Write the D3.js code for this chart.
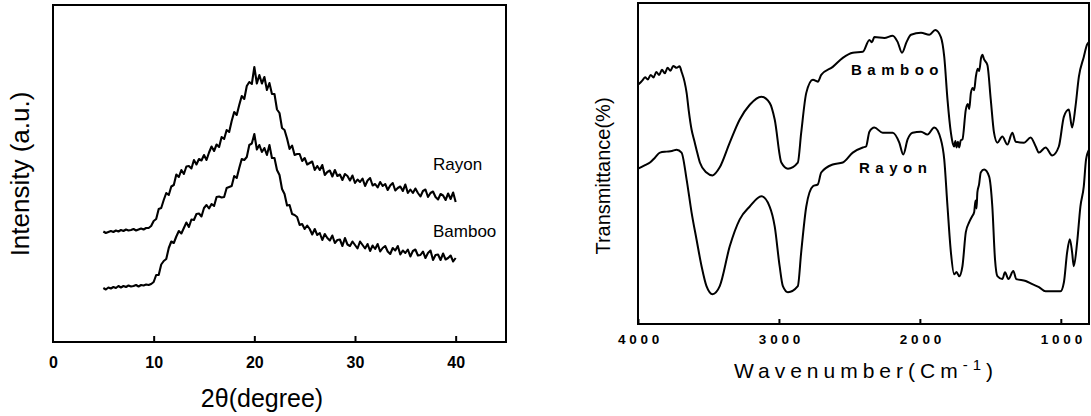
<!DOCTYPE html>
<html>
<head>
<meta charset="utf-8">
<script src="https://cdn.jsdelivr.net/npm/d3@7"></script>
<style>
  html, body { margin: 0; padding: 0; background: #fff; }
  svg { display: block; }
  text { font-family: "Liberation Sans", Arial, sans-serif; fill: #000; }
</style>
</head>
<body>
<svg id="chart" width="1091" height="416"></svg>
<script>
// ---------- XRD (left panel) ----------
const xrdAngleStart = 5, xrdAngleEnd = 40, xrdAngleStep = 0.25;
const xrdTicks = [0, 10, 20, 30, 40];
const xrdRayon = [
  110.5,109,110,111,110,111.5,110.5,112,111,112.5,
  111.5,112,113,111.5,112.5,113.5,112.5,114,114,116,
  121,123,133,134,142,149,147,155.5,157,167.5,
  165,172,168,175.5,176,173.5,182,177.5,183,181.5,
  187,182,189.5,195.5,191,197.5,195,205,203,212,
  210,221,230,227,237,246,243,256,260,258,
  275,258.5,267,258.5,265,252,259,248,248,232.5,
  229,214,212,203.5,193,196.5,187,188,188,181,
  184,177.5,179,180.5,172,176,172,177,167,170,
  171.5,165.5,172,166,167.5,162,168,166,161.5,166.5,
  159,162.5,160,163.5,156,161.5,164,156.5,158,154.5,
  160,156,158,152,156.5,159,151.5,154,155.5,151,
  157.5,149,152.5,149,153.5,149,145.5,151,152.5,145,
  149,150.5,145,142.5,148,146.5,142,148.5,143,149.5,
  140
];
const xrdBamboo = [
  54,52.5,54.5,53.5,55,54,56,54.5,56,55,
  56.5,55.5,56,57,55.5,57,56.5,57.5,57,58,
  60,67,67,77.5,81,83,94,100.5,99,105.5,
  111,108.5,114,119.5,115,122.5,122,128,128.5,125.5,
  134,137,133.5,138,136,145,145.5,144.5,145,154,
  155,156,166,164,174,183,182,185,197,198.5,
  208,192.5,197,190,194,187,197,184,184,172,
  167,153,148,136.5,137,128,127,125,117,118,
  113,116.5,113,107.5,113,107,109,102,108,104,
  101.5,106.5,99,102,102.5,96,104,97.5,96,100.5,
  97,93.5,100.5,97,93.5,98,91,96.5,93,98,
  90.5,94,96,90.5,88,94,91.5,96,87.5,91.5,
  89,92.5,85.5,91,92.5,86.5,87,90.5,84,89,
  91.5,82,87,87.5,82,88.5,82.5,84,86.5,80.5,
  84
];
const xrdLabels = ["Rayon", "Bamboo"];

// ---------- FTIR (right panel) ----------
const ftirTicks = [4000, 3000, 2000, 1000];
const ftirWnBamboo = [4000,3970,3950,3930,3910,3890,3870,3850,3830,3810,3790,3770,3750,3726,3705,3691,3670,3655,3640,3620,3600,3585,3561,3514,3471,3420,3349,3278,3207,3125,3066,3030,2983,2936,2866,2842,2806,2759,2724,2700,2618,2547,2476,2405,2358,2340,2323,2252,2193,2158,2127,2094,2063,1992,1933,1891,1851,1827,1804,1780,1765,1757,1748,1740,1730,1721,1710,1698,1674,1660,1650,1638,1625,1615,1603,1590,1580,1565,1556,1545,1521,1497,1474,1450,1415,1379,1344,1320,1261,1214,1178,1155,1108,1061,1014,978,943,920,896,872,837,814,800];
const ftirBamboo = [74.5,75.8,76.9,76.2,77.6,76.8,78.5,77.6,79.2,78.1,79.8,78.9,80.4,79.8,80.3,78.6,75.5,72.0,66.5,60.6,57.0,54.3,50.3,47.2,46.3,48.8,56.5,63.7,68.3,70.8,68.9,63.7,50.3,48.4,50.3,59.6,72.0,76.1,75.5,77.6,80.1,82.9,84.5,84.8,88.5,87.8,89.4,89.1,89.8,87.9,84.5,87.9,90.1,90.7,90.1,91.6,89.4,83.2,69.9,59.6,56.0,55.3,57.0,55.0,56.8,55.0,57.2,57.5,66.8,68.5,67.0,72.0,73.5,72.8,77.0,79.5,78.8,83.0,83.9,82.5,80.7,69.9,59.6,56.5,58.4,55.9,59.6,56.8,56.5,58.1,55.3,53.4,55.0,52.5,55.3,64.6,66.8,61.2,67.7,77.0,83.2,87.0,87.9];
const ftirWnRayon = [4000,3950,3915,3880,3844,3797,3760,3726,3691,3655,3620,3585,3549,3514,3471,3420,3349,3278,3207,3125,3066,3030,2995,2972,2936,2866,2842,2806,2759,2724,2700,2618,2547,2476,2405,2382,2358,2323,2264,2193,2146,2118,2087,2052,1992,1946,1898,1851,1827,1804,1780,1757,1740,1721,1698,1674,1650,1630,1615,1605,1598,1592,1580,1568,1544,1509,1486,1467,1450,1415,1396,1372,1337,1316,1249,1202,1155,1108,1002,978,955,936,920,908,884,861,837,821,800];
const ftirRayon = [48.4,49.5,50.3,51.8,53.4,53.7,53.9,54.3,53.4,45.0,34.8,26.4,18.0,11.8,9.3,11.8,24.2,32.6,36.6,39.8,36.6,30.4,18.0,11.8,9.9,11.8,22.4,36.6,42.9,43.5,47.2,49.7,50.3,53.4,55.0,55.3,59.9,61.2,59.6,59.6,56.5,52.8,57.5,59.6,59.9,59.0,61.2,57.5,51.2,36.6,22.4,15.5,16.2,14.9,18.0,28.6,31.7,33.5,34.8,38.5,36.0,41.0,43.5,47.2,48.1,46.0,36.6,20.2,14.9,14.0,16.1,14.0,16.5,14.0,13.4,12.4,11.5,10.2,10.2,13.0,22.4,26.4,22.4,18.0,25.5,36.6,42.9,51.2,54.3];
const ftirLabels = ["Bamboo", "Rayon"];

const svg = d3.select("#chart");

// ===== Left panel =====
(function () {
  const L = { left: 53, right: 506, top: 5, bottom: 342 };
  const x = d3.scaleLinear().domain([0, 45]).range([L.left, L.right]);
  const y = d3.scaleLinear().domain([0, 337]).range([L.bottom, L.top]);
  const angles = d3.range(xrdAngleStart, xrdAngleEnd + 1e-9, xrdAngleStep);
  const g = svg.append("g");

  const line = d3.line().x(d => x(d[0])).y(d => y(d[1]));
  [xrdRayon, xrdBamboo].forEach(series => {
    g.append("path")
      .datum(angles.map((a, i) => [a, series[i]]).filter(d => d[1] !== undefined))
      .attr("fill", "none").attr("stroke", "#000")
      .attr("stroke-width", 2.1).attr("stroke-linejoin", "round")
      .attr("d", line);
  });

  g.append("rect").attr("x", L.left).attr("y", L.top)
    .attr("width", L.right - L.left).attr("height", L.bottom - L.top)
    .attr("fill", "none").attr("stroke", "#000").attr("stroke-width", 2);

  const ax = d3.axisBottom(x).tickValues(xrdTicks).tickSize(-6).tickPadding(0).tickFormat(d3.format("d"));
  const axg = g.append("g").attr("transform", `translate(0,${L.bottom})`).call(ax);
  axg.select(".domain").remove();
  axg.selectAll(".tick line").attr("stroke", "#000").attr("stroke-width", 2)
    .filter(d => d === 0).remove();
  axg.selectAll(".tick text").attr("y", 26).attr("dy", 0)
    .style("font-size", "16px").style("font-weight", "bold")
    .style("font-family", "'Liberation Sans', Arial, sans-serif").attr("fill", "#000");

  g.append("text").attr("x", 262).attr("y", 407).attr("text-anchor", "middle")
    .style("font-size", "25px").text("2θ(degree)");
  g.append("text").attr("transform", "translate(29,174) rotate(-90)")
    .attr("text-anchor", "middle").style("font-size", "26px").text("Intensity (a.u.)");

  g.append("text").attr("x", 433).attr("y", 170).style("font-size", "17px").text(xrdLabels[0]);
  g.append("text").attr("x", 433).attr("y", 237).style("font-size", "17px").text(xrdLabels[1]);
})();

// ===== Right panel =====
(function () {
  const R = { left: 638, right: 1089, top: 3, bottom: 324 };
  const x = d3.scaleLinear().domain([4000, 800]).range([R.left, R.right]);
  const y = d3.scaleLinear().domain([0, 100]).range([R.bottom, R.top]);
  const g = svg.append("g");
  const line = d3.line().x(d => x(d[0])).y(d => y(d[1])).curve(d3.curveMonotoneX);

  g.append("path").datum(ftirWnBamboo.map((w, i) => [w, ftirBamboo[i]]))
    .attr("fill", "none").attr("stroke", "#000").attr("stroke-width", 2)
    .attr("stroke-linejoin", "round").attr("d", line);
  g.append("path").datum(ftirWnRayon.map((w, i) => [w, ftirRayon[i]]))
    .attr("fill", "none").attr("stroke", "#000").attr("stroke-width", 2)
    .attr("stroke-linejoin", "round").attr("d", line);

  g.append("rect").attr("x", R.left).attr("y", R.top)
    .attr("width", R.right - R.left).attr("height", R.bottom - R.top)
    .attr("fill", "none").attr("stroke", "#000").attr("stroke-width", 2);

  const ax = d3.axisBottom(x).tickValues(ftirTicks).tickSize(-5).tickPadding(0).tickFormat(d3.format("d"));
  const axg = g.append("g").attr("transform", `translate(0,${R.bottom})`).call(ax);
  axg.select(".domain").remove();
  axg.selectAll(".tick line").attr("stroke", "#000").attr("stroke-width", 2);
  axg.selectAll(".tick text").attr("y", 20).attr("dy", 0).attr("dx", 2)
    .style("font-size", "13.5px").style("font-weight", "bold").style("letter-spacing", "3.8px")
    .style("font-family", "'Liberation Sans', Arial, sans-serif").attr("fill", "#000");

  const xt = g.append("text").attr("x", 866).attr("y", 378).attr("text-anchor", "middle")
    .style("font-size", "21px").style("letter-spacing", "5px");
  xt.append("tspan").text("Wavenumber(Cm");
  xt.append("tspan").attr("dy", -8).style("font-size", "15px").text("-1");
  xt.append("tspan").attr("dy", 8).text(")");

  g.append("text").attr("transform", "translate(610,176) rotate(-90)")
    .attr("text-anchor", "middle").style("font-size", "20px").text("Transmittance(%)");

  g.append("text").attr("x", 851).attr("y", 75).style("font-size", "15px")
    .style("font-weight", "bold").style("letter-spacing", "5.5px").text(ftirLabels[0]);
  g.append("text").attr("x", 859).attr("y", 173).style("font-size", "15px")
    .style("font-weight", "bold").style("letter-spacing", "5.5px").text(ftirLabels[1]);
})();
</script>
</body>
</html>
